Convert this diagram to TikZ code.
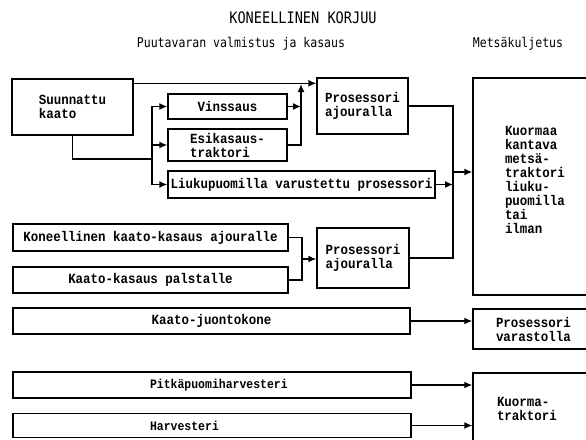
\documentclass[tikz,border=0pt]{standalone}
\usepackage{fontspec}
\usetikzlibrary{arrows.meta,positioning}
\newfontfamily\monofam{Liberation Mono}[FakeStretch=0.89]
\newfontfamily\headfam{DejaVu Sans Mono}[FakeStretch=0.86]
\newcommand\bxfont{\monofam\bfseries\fontsize{14}{14}\selectfont}
\newcommand\smfont{\monofam\bfseries\fontsize{12.9}{14}\selectfont}
\newcommand\hdfont{\headfam\fontsize{13.4}{15}\selectfont}
\newcommand\ttlfont{\headfam\fontsize{15.8}{17}\selectfont}

\begin{document}
\begin{tikzpicture}[x=1pt, y=-1pt, line width=1.4pt, >={Latex[length=8pt,width=7pt]}, box/.style = {draw, rectangle, inner sep=0pt, font=\bxfont, align=left}, side/.style = {font=\smfont, anchor=west, inner sep=0pt}]
\useasboundingbox (0,0) rectangle (586,439);
\node[font=\ttlfont] (title) at (303,18) {KONEELLINEN KORJUU};
\node[font=\hdfont] (valm) at (241,44) {Puutavaran valmistus ja kasaus};
\node[font=\hdfont] (kulj) at (518,44) {Metsäkuljetus};
\node[box, minimum width=121pt, minimum height=56pt] (sk) at (72.5,107) {Suunnattu\\kaato};
\node[box, minimum width=119pt, minimum height=25pt] (vin) at (227.5,106.5) {Vinssaus};
\node[box, minimum width=119pt, minimum height=32pt] (esi) at (227.5,145) {Esikasaus-\\traktori};
\node[box, minimum width=267pt, minimum height=27pt] (liu) at (301.5,184.5) {Liukupuomilla varustettu prosessori};
\node[box, minimum width=91pt, minimum height=56pt] (pa1) at (362.5,106) {Prosessori\\ajouralla};
\node[box, minimum width=127pt, minimum height=217pt, text width=63pt, inner xsep=32pt] (big) at (536.5,186.5) {Kuormaa\\kantava\\metsä-\\traktori\\liuku-\\puomilla\\tai\\ilman\\\mbox{}};
\node[box, minimum width=275pt, minimum height=27pt, align=center] (kk) at (150.5,237.5) {Koneellinen kaato-kasaus ajouralle};
\node[box, minimum width=275pt, minimum height=26pt, align=center] (kp) at (150.5,280) {Kaato-kasaus palstalle};
\node[box, minimum width=92pt, minimum height=60pt] (pa2) at (363,258) {Prosessori\\ajouralla};
\node[box, minimum width=397pt, minimum height=26pt, align=center] (kj) at (211.5,321) {Kaato-juontokone};
\node[box, minimum width=127pt, minimum height=40pt, text width=81pt, inner xsep=23pt] (pv) at (536.5,329) {Prosessori\\varastolla};
\node[box, minimum width=398pt, minimum height=26pt] (pit) at (212,385) {};
\node[box, minimum width=398pt, minimum height=24pt] (har) at (212,425.5) {};
\node[box, minimum width=127pt, minimum height=72pt, text width=79pt, inner xsep=24pt] (kt) at (536.5,409) {Kuorma-\\traktori};
\node[side] (pitT) at ([xshift=137pt]pit.west) {Pitkäpuomiharvesteri};
\node[side] (harT) at ([xshift=137pt]har.west) {Harvesteri};
\coordinate (top) at ([yshift=-5pt]sk.north east);
\coordinate (j1) at (301,84);
\coordinate (j2) at (152,159);
\coordinate (j3) at (453,172);
\coordinate (j4) at (302,259);
\draw[->] (top) -- (top -| pa1.west);
\draw[->] (vin.east) -- (vin.east -| j1);
\draw[->] (esi.east) -| (j1);
\draw (sk.south) |- (j2);
\draw[->] (j2) |- (vin.west);
\draw[->] (j2) |- (esi.west);
\draw[->] (j2) |- (liu.west);
\draw (pa1.east) -| (j3);
\draw (pa2.east) -| (j3);
\draw[->] (liu.east) -- (liu.east -| j3);
\draw[->] (j3) -- (j3 -| big.west);
\draw (kk.east) -| (j4);
\draw (kp.east) -| (j4);
\draw[->] (j4) -- (j4 -| pa2.west);
\draw[->] (kj.east) -- (kj.east -| pv.west);
\draw[->] (pit.east) -- (pit.east -| kt.west);
\draw[->] (har.east) -- (har.east -| kt.west);
\end{tikzpicture}
\end{document}
